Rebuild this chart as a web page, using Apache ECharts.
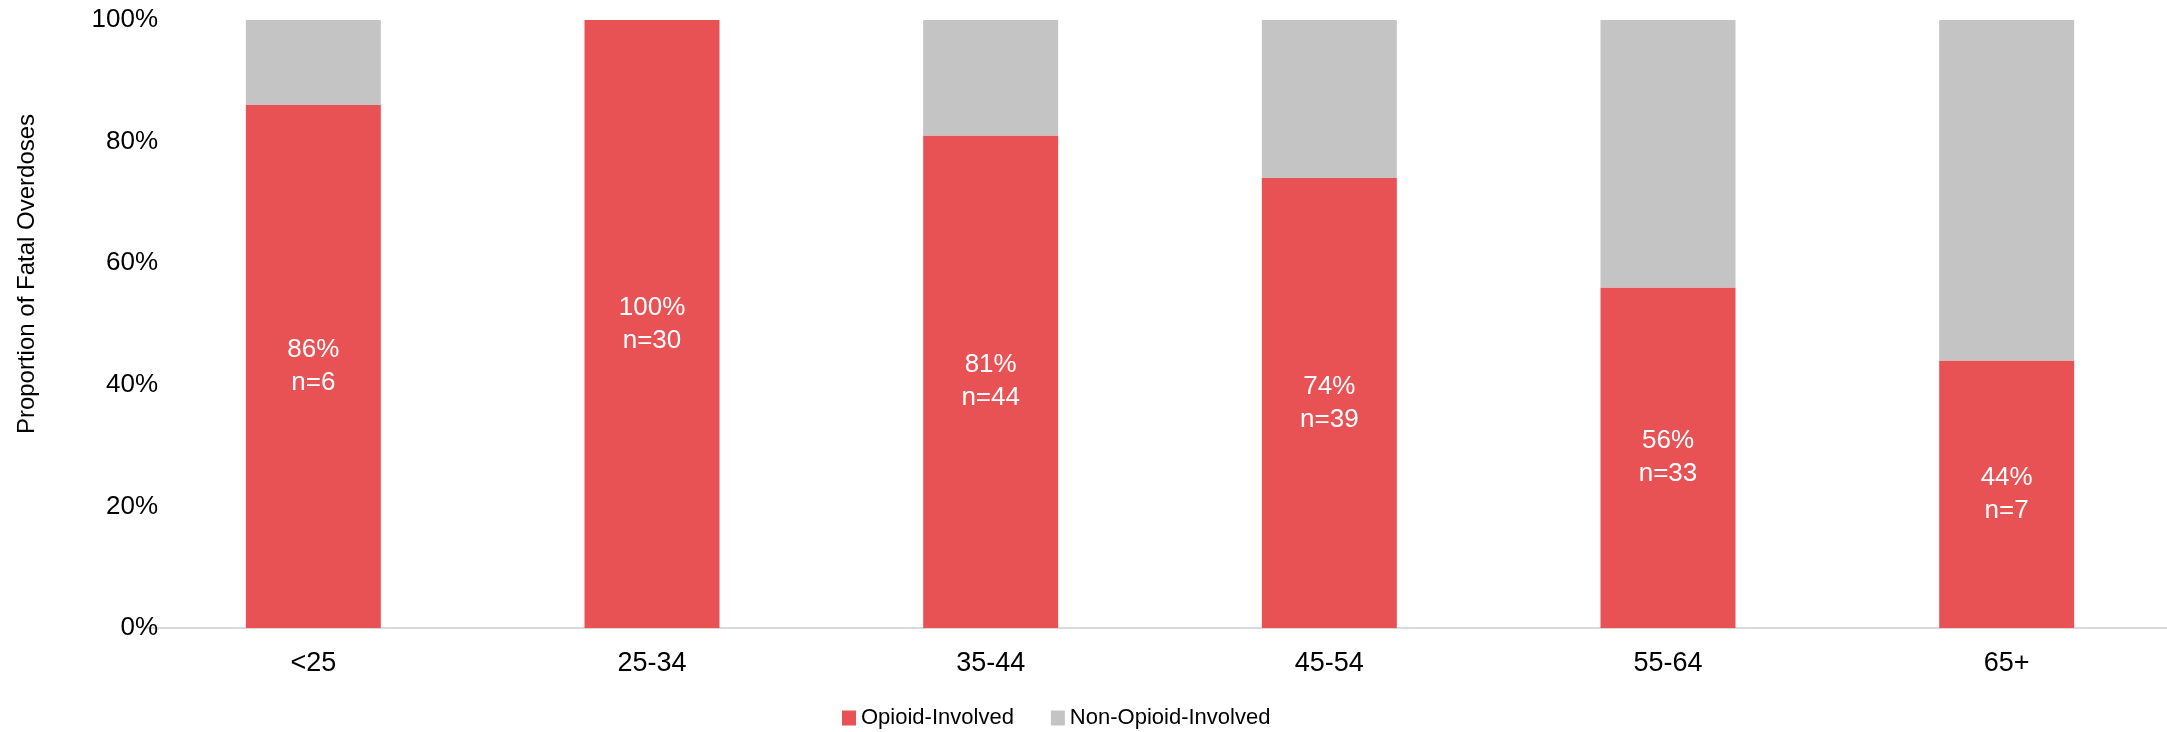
<!DOCTYPE html>
<html>
<head>
<meta charset="utf-8">
<title>Fatal Overdoses by Age Group</title>
<script src="https://cdn.jsdelivr.net/npm/echarts@6/dist/echarts.min.js"></script>
<style>
  html, body { margin: 0; padding: 0; background: #fff; }
  #chart { width: 2167px; height: 732px; }
</style>
</head>
<body>
<div id="chart"></div>
<script>
// Age groups on the x axis
const ageGroups = ['<25', '25-34', '35-44', '45-54', '55-64', '65+'];
// Share of fatal overdoses (%) that involved opioids
const opioidPct = [86, 100, 81, 74, 56, 44];
// Share of fatal overdoses (%) that did not involve opioids
const nonOpioidPct = [14, 0, 19, 26, 44, 56];
// Number of opioid-involved deaths per age group
const opioidCount = [6, 30, 44, 39, 33, 7];
// Y axis ticks
const yTicks = [0, 20, 40, 60, 80, 100];

const RED = '#E95255';
const GREY = '#C4C4C4';
const FONT = "'Liberation Sans', Arial, sans-serif";

const chart = echarts.init(document.getElementById('chart'), null, { renderer: 'canvas' });

chart.setOption({
  animation: false,
  backgroundColor: '#ffffff',
  // plot area runs slightly past the right edge of the canvas
  grid: { left: 144, top: 20, width: 2032, height: 608, containLabel: false, outerBoundsMode: 'none' },
  legend: {
    left: 842,
    top: 707,
    padding: 0,
    itemWidth: 14,
    itemHeight: 15,
    itemGap: 37,
    icon: 'rect',
    textStyle: { fontFamily: FONT, fontSize: 22, color: '#000' },
    data: ['Opioid-Involved', 'Non-Opioid-Involved']
  },
  graphic: [{
    type: 'text',
    x: 27,
    y: 274,
    rotation: Math.PI / 2,
    style: {
      text: 'Proportion of Fatal Overdoses',
      font: "24px " + FONT,
      fill: '#000',
      textAlign: 'center',
      textVerticalAlign: 'middle'
    }
  }],
  xAxis: {
    type: 'category',
    data: ageGroups,
    axisLine: { show: true, lineStyle: { color: '#D9D9D9', width: 2 } },
    axisTick: { show: false },
    axisLabel: { margin: 22, fontFamily: FONT, fontSize: 27, color: '#000' }
  },
  yAxis: {
    type: 'value',
    min: yTicks[0],
    max: yTicks[yTicks.length - 1],
    interval: yTicks[1] - yTicks[0],
    axisLine: { show: false },
    axisTick: { show: false },
    splitLine: { show: false },
    axisLabel: { margin: -14, fontFamily: FONT, fontSize: 26, color: '#000', formatter: '{value}%' }
  },
  series: [
    {
      name: 'Opioid-Involved',
      type: 'bar',
      stack: 'total',
      barWidth: 135,
      itemStyle: { color: RED },
      data: opioidPct,
      label: {
        show: true,
        position: 'inside',
        color: '#fff',
        fontFamily: FONT,
        fontSize: 26,
        lineHeight: 33,
        formatter: p => p.value + '%\nn=' + opioidCount[p.dataIndex]
      }
    },
    {
      name: 'Non-Opioid-Involved',
      type: 'bar',
      stack: 'total',
      barWidth: 135,
      itemStyle: { color: GREY },
      data: nonOpioidPct
    }
  ]
});
</script>
</body>
</html>
